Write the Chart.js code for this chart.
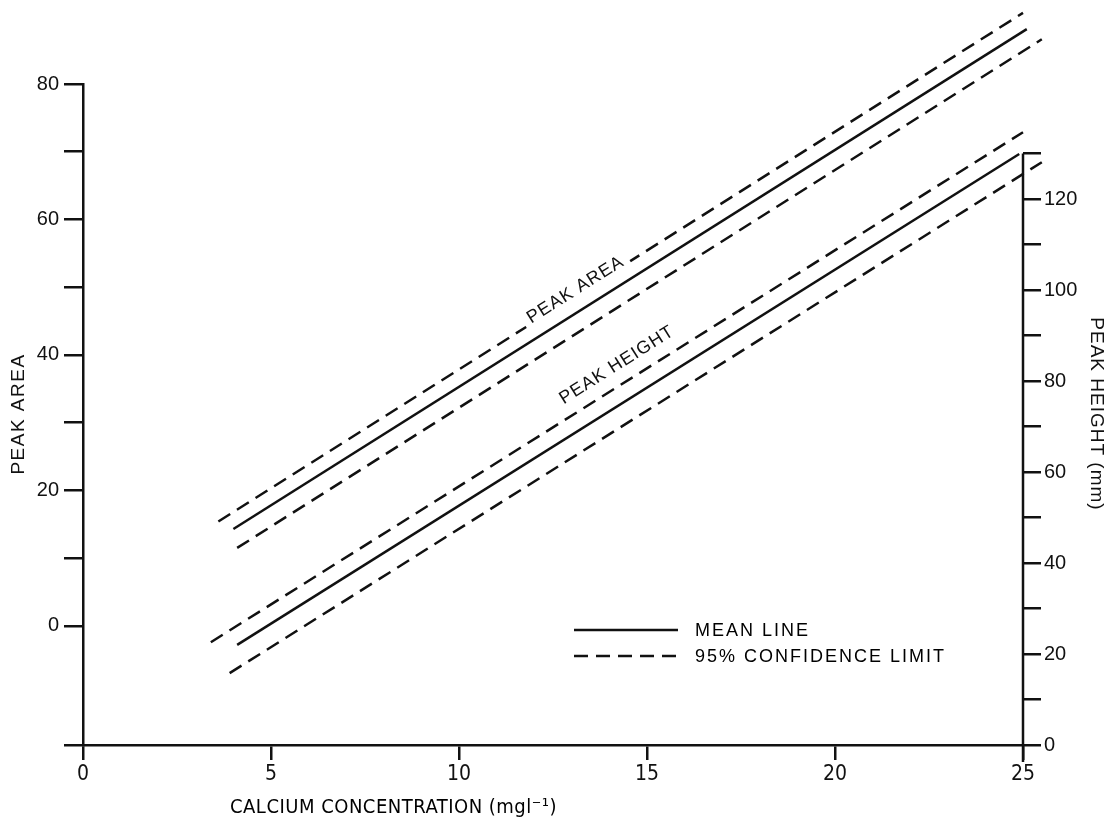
<!DOCTYPE html>
<html>
<head>
<meta charset="utf-8">
<title>Peak area / peak height vs calcium concentration</title>
<script src="https://cdn.jsdelivr.net/npm/chart.js@4.4.1/dist/chart.umd.min.js"></script>
<style>
    html, body { margin: 0; padding: 0; background: #fff; }
    #wrap { width: 1118px; height: 829px; position: relative; }
</style>
</head>
<body>
<div id="wrap"><canvas id="calciumChart"></canvas></div>
<script>
// line end points (x = calcium conc., y = peak area / peak height)
const areaMeanX = [4.0, 25.1];
const areaMean = [14.3, 88.1];
const areaUpperX = [3.6, 25.0];
const areaUpper = [15.4, 90.5];
const areaLowerX = [4.1, 25.5];
const areaLower = [11.5, 86.6];

const heightMeanX = [4.1, 24.9];
const heightMean = [22.0, 129.9];
const heightUpperX = [3.4, 25.0];
const heightUpper = [22.6, 134.7];
const heightLowerX = [3.9, 25.5];
const heightLower = [15.8, 128.1];

// axes
const xTickLabels = [0, 5, 10, 15, 20, 25];
const areaTicks = [0, 10, 20, 30, 40, 50, 60, 70, 80];
const areaTickLabels = [0, 20, 40, 60, 80];
const heightTicks = [0, 10, 20, 30, 40, 50, 60, 70, 80, 90, 100, 110, 120, 130];
const heightTickLabels = [0, 20, 40, 60, 80, 100, 120];
const legendLabels = ["MEAN LINE", "95% CONFIDENCE LIMIT"];

const INK = "#111";
const SANS = '"Liberation Sans", Arial, sans-serif';
const NARROW = '"Liberation Sans Narrow", "DejaVu Sans Condensed", "Liberation Sans", sans-serif';

function pts(xs, ys) {
    return xs.map((x, i) => ({ x: x, y: ys[i] }));
}

function lineSet(xs, ys, axis, dashed) {
    return {
        data: pts(xs, ys),
        yAxisID: axis,
        borderColor: INK,
        borderWidth: 2.5,
        borderDash: dashed ? [14, 8] : [],
        pointRadius: 0,
        fill: false,
        tension: 0,
        clip: false,
    };
}

function rotatedText(ctx, text, x, y, angle, clear) {
    ctx.save();
    ctx.translate(x, y);
    ctx.rotate(angle);
    if (clear) {
        const w = ctx.measureText(text).width;
        ctx.fillStyle = "#fff";
        ctx.fillRect(-w / 2 - 6, -10, w + 12, 20);
    }
    ctx.fillStyle = INK;
    ctx.fillText(text, 0, 0);
    ctx.restore();
}

const decorations = {
    id: "decorations",
    afterDatasetsDraw(chart) {
        const ctx = chart.ctx;
        const sx = chart.scales.x;
        const ya = chart.scales.yArea;
        const yh = chart.scales.yHeight;
        ctx.save();

        // right axis line, only up to 130
        ctx.strokeStyle = INK;
        ctx.lineWidth = 2.5;
        ctx.beginPath();
        ctx.moveTo(chart.chartArea.right, yh.getPixelForValue(0) + 17);
        ctx.lineTo(chart.chartArea.right, yh.getPixelForValue(130));
        ctx.stroke();

        // labels along the lines
        const angle = Math.atan2(
            ya.getPixelForValue(areaMean[1]) - ya.getPixelForValue(areaMean[0]),
            sx.getPixelForValue(areaMeanX[1]) - sx.getPixelForValue(areaMeanX[0])
        );
        ctx.font = "18px " + SANS;
        ctx.letterSpacing = "1px";
        ctx.textAlign = "center";
        ctx.textBaseline = "middle";
        rotatedText(ctx, "PEAK AREA", sx.getPixelForValue(13.1), ya.getPixelForValue(49.6), angle, true);
        rotatedText(ctx, "PEAK HEIGHT", sx.getPixelForValue(14.2), yh.getPixelForValue(83.5), angle, false);

        // axis titles
        ctx.font = "19px " + SANS;
        ctx.letterSpacing = "1.5px";
        rotatedText(ctx, "PEAK AREA", 19, 414, -Math.PI / 2, false);
        ctx.letterSpacing = "1px";
        rotatedText(ctx, "PEAK HEIGHT (mm)", 1096, 414, Math.PI / 2, false);

        // legend
        ctx.textAlign = "left";
        ctx.font = "18px " + SANS;
        ctx.letterSpacing = "2px";
        [630, 656].forEach((ly, i) => {
            ctx.beginPath();
            ctx.setLineDash(i === 0 ? [] : [14, 8]);
            ctx.moveTo(574, ly);
            ctx.lineTo(678, ly);
            ctx.stroke();
            ctx.setLineDash([]);
            ctx.fillText(legendLabels[i], 695, ly + 1);
        });

        // x axis title
        ctx.font = "20px " + NARROW;
        ctx.letterSpacing = "0.5px";
        ctx.fillText("CALCIUM CONCENTRATION (mgl\u207B\u00B9)", 230, 808);
        ctx.restore();
    }
};

const calciumChart = document.getElementById("calciumChart").getContext("2d");
new Chart(calciumChart, {
    type: "line",
    data: {
        datasets: [
            lineSet(areaMeanX, areaMean, "yArea", false),
            lineSet(areaUpperX, areaUpper, "yArea", true),
            lineSet(areaLowerX, areaLower, "yArea", true),
            lineSet(heightMeanX, heightMean, "yHeight", false),
            lineSet(heightUpperX, heightUpper, "yHeight", true),
            lineSet(heightLowerX, heightLower, "yHeight", true),
        ],
    },
    options: {
        responsive: true,
        maintainAspectRatio: false,
        animation: false,
        layout: { padding: { top: 84, left: 0, right: 0, bottom: 0 } },
        plugins: {
            legend: { display: false },
            tooltip: { enabled: false },
        },
        scales: {
            x: {
                type: "linear",
                min: 0,
                max: 25,
                afterBuildTicks: (s) => { s.ticks = xTickLabels.map(v => ({ value: v })); },
                afterFit: (s) => { s.height = 84; },
                ticks: {
                    color: INK,
                    font: { family: NARROW, size: 21 },
                    padding: 2,
                    maxRotation: 0,
                },
                grid: { drawOnChartArea: false, tickLength: 15, color: INK, lineWidth: 2.5 },
                border: { color: INK, width: 2.5 },
            },
            yArea: {
                type: "linear",
                position: "left",
                min: -17.6,
                max: 80,
                afterBuildTicks: (s) => { s.ticks = [-17.6].concat(areaTicks).map(v => ({ value: v })); },
                afterFit: (s) => { s.width = 83; },
                ticks: {
                    color: INK,
                    font: { family: SANS, size: 20 },
                    padding: 5,
                    callback: (v) => areaTickLabels.includes(v) ? String(v) : "",
                },
                grid: { drawOnChartArea: false, tickLength: 19, color: INK, lineWidth: 2.5 },
                border: { color: INK, width: 2.5 },
            },
            yHeight: {
                type: "linear",
                position: "right",
                min: 0,
                max: 145.3,
                afterBuildTicks: (s) => { s.ticks = heightTicks.map(v => ({ value: v })); },
                afterFit: (s) => { s.width = 95; },
                ticks: {
                    color: INK,
                    font: { family: SANS, size: 20 },
                    padding: 3,
                    callback: (v) => heightTickLabels.includes(v) ? String(v) : "",
                },
                grid: { drawOnChartArea: false, tickLength: 18, color: INK, lineWidth: 2.5 },
                border: { display: false },
            },
        },
    },
    plugins: [decorations],
});
</script>
</body>
</html>
